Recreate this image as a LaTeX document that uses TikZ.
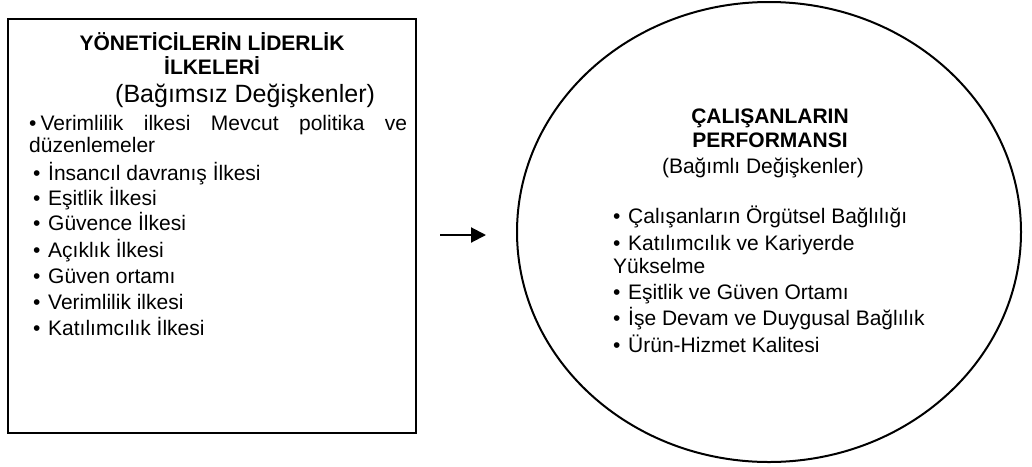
\documentclass[tikz,border=0pt]{standalone}
\usepackage{fontspec}
\setmainfont{Liberation Sans}
\usetikzlibrary{arrows.meta,shapes.geometric}
\newcommand{\bul}{\makebox[15pt][l]{•}}
\begin{document}
\begin{tikzpicture}[x=1pt,y=-1pt,
  txt/.style={inner sep=0pt,anchor=base west,font=\fontsize{21}{24}\selectfont},
  ttl/.style={inner sep=0pt,anchor=base,font=\fontsize{21}{24}\selectfont\bfseries},
  frame/.style={draw=black,line width=2pt}]
\useasboundingbox (0,0) rectangle (1032,466);
% left box
\node[frame,rectangle,minimum width=408pt,minimum height=414pt,inner sep=0pt] (box) at (212,226) {};
\node[ttl] (t1) at (212,50) {YÖNETİCİLERİN LİDERLİK};
\node[ttl] (t2) at (212,74) {İLKELERİ};
\node[txt,font=\fontsize{25}{28}\selectfont] (s1) at (115,102) {(Bağımsız Değişkenler)};
\node[txt] (l1) at (29,130) {\makebox[378pt][s]{•\hspace{4pt}Verimlilik ilkesi Mevcut politika ve}};
\node[txt] (l1b) at (29,152) {düzenlemeler};
\node[txt] (l2) at (33,180) {\bul İnsancıl davranış İlkesi};
\node[txt] (l3) at (33,205) {\bul Eşitlik İlkesi};
\node[txt] (l4) at (33,230) {\bul Güvence İlkesi};
\node[txt] (l5) at (33,257) {\bul Açıklık İlkesi};
\node[txt] (l6) at (33,283) {\bul Güven ortamı};
\node[txt] (l7) at (33,309) {\bul Verimlilik ilkesi};
\node[txt] (l8) at (33,335) {\bul Katılımcılık İlkesi};
% arrow
\coordinate (a1) at (440,235);
\coordinate (a2) at (486,235);
\draw[line width=2pt,-{Triangle[length=15pt,width=15pt]}] (a1) -- (a2);
% ellipse
\node[frame,ellipse,minimum width=504pt,minimum height=460pt,inner sep=0pt] (ell) at (769,232) {};
\node[ttl] (r1) at (770,123) {ÇALIŞANLARIN};
\node[ttl] (r2) at (770,147) {PERFORMANSI};
\node[txt,anchor=base] (rs) at (763,173) {(Bağımlı Değişkenler)};
\node[txt] (m1) at (613,223) {\bul Çalışanların Örgütsel Bağlılığı};
\node[txt] (m2) at (613,250) {\bul Katılımcılık ve Kariyerde};
\node[txt] (m2b) at (613,273) {Yükselme};
\node[txt] (m3) at (613,299) {\bul Eşitlik ve Güven Ortamı};
\node[txt] (m4) at (613,325) {\bul İşe Devam ve Duygusal Bağlılık};
\node[txt] (m5) at (613,352) {\bul Ürün-Hizmet Kalitesi};
\end{tikzpicture}
\end{document}
